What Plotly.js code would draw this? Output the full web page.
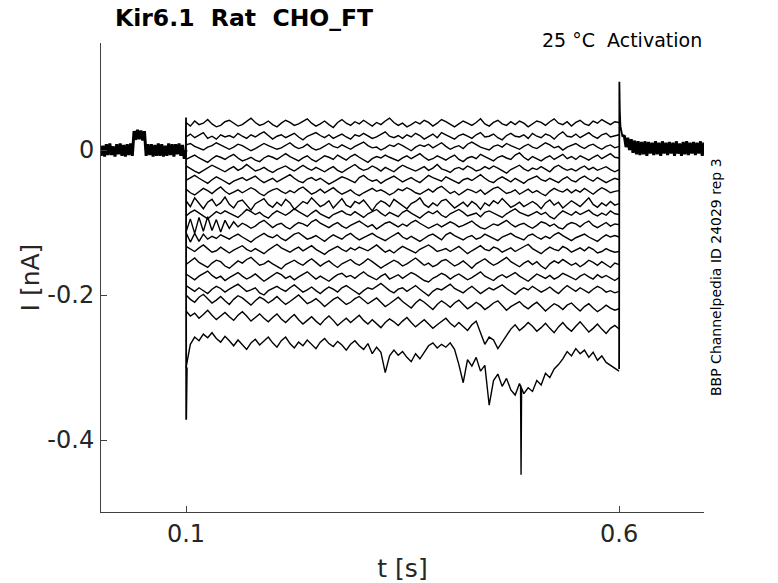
<!DOCTYPE html>
<html>
<head>
<meta charset="utf-8">
<script src="https://cdn.plot.ly/plotly-3.0.1.min.js"></script>
<style>
  html, body { margin: 0; padding: 0; background: #fff; }
  #myDiv { width: 778px; height: 583px; }
</style>
</head>
<body>
<div id="myDiv"></div>
<script>
// sweep currents in pA, sampled every 5 ms during the 0.1-0.6 s step
var sweepT = [
  0.100,0.105,0.110,0.115,0.120,0.125,0.130,0.135,0.140,0.145,
  0.150,0.155,0.160,0.165,0.170,0.175,0.180,0.185,0.190,0.195,
  0.200,0.205,0.210,0.215,0.220,0.225,0.230,0.235,0.240,0.245,
  0.250,0.255,0.260,0.265,0.270,0.275,0.280,0.285,0.290,0.295,
  0.300,0.305,0.310,0.315,0.320,0.325,0.330,0.335,0.340,0.345,
  0.350,0.355,0.360,0.365,0.370,0.375,0.380,0.385,0.390,0.395,
  0.400,0.405,0.410,0.415,0.420,0.425,0.430,0.435,0.440,0.445,
  0.450,0.455,0.460,0.465,0.470,0.475,0.480,0.485,0.490,0.495,
  0.500,0.505,0.510,0.515,0.520,0.525,0.530,0.535,0.540,0.545,
  0.550,0.555,0.560,0.565,0.570,0.575,0.580,0.585,0.590,0.595,
  0.600];

var sweep01 = [
  38,33,40,35,37,42,36,32,34,39, 41,37,33,35,39,44,38,34,36,40,
  35,32,37,41,38,34,36,39,43,37, 33,36,40,35,31,38,42,37,34,39,
  36,41,37,33,38,35,40,44,38,34, 37,32,35,39,36,41,38,33,37,42,
  39,35,32,36,40,37,34,38,43,36, 33,38,41,36,34,39,35,40,37,32,
  36,40,38,34,39,43,37,35,39,33, 38,41,36,34,40,37,42,38,35,39, 38];
var sweep02 = [
  18,22,17,20,24,16,19,15,21,18, 20,17,23,19,16,21,18,22,25,20,
  15,19,21,17,20,23,18,14,19,22, 24,20,17,21,16,19,22,18,15,21,
  19,23,20,16,18,21,25,19,17,20, 16,21,18,23,20,15,19,22,17,24,
  21,18,15,20,22,19,16,21,24,18, 19,22,17,14,20,23,19,18,21,16,
  23,19,17,22,20,15,21,25,19,18, 22,17,20,24,19,16,21,23,18,20, 21];
var sweep03 = [
  7,9,5,2,0,4,6,10,7,3, 1,4,8,6,3,-1,2,5,9,6,
  4,1,3,7,10,5,2,4,8,3, 0,2,6,9,5,3,7,4,1,5,
  8,11,6,3,4,0,3,7,5,9, 6,2,-1,4,7,5,8,3,6,10,
  5,1,4,6,2,8,11,7,4,2, 0,5,7,4,9,6,3,1,5,8,
  4,2,6,10,7,3,5,0,4,7, 9,5,2,6,8,4,1,5,7,3, 5];
var sweep04 = [
  -13,-10,-7,-11,-14,-17,-12,-8,-10,-13, -9,-6,-11,-15,-13,-10,-14,-16,-11,-8,
  -10,-13,-9,-5,-9,-12,-15,-11,-8,-13, -16,-12,-8,-10,-13,-7,-11,-14,-9,-6,
  -10,-14,-17,-12,-9,-11,-7,-10,-13,-15, -11,-8,-12,-9,-5,-10,-14,-12,-8,-11,
  -14,-10,-7,-13,-16,-11,-9,-12,-6,-9, -12,-15,-10,-8,-11,-13,-7,-4,-10,-14,
  -9,-12,-15,-11,-8,-13,-10,-6,-12,-9, -13,-8,-11,-14,-10,-7,-12,-9,-5,-10, -11];
var sweep05 = [
  -22,-26,-29,-32,-28,-25,-21,-24,-27,-30, -26,-23,-28,-25,-20,-24,-29,-27,-24,-28,
  -31,-27,-24,-22,-26,-29,-25,-21,-25,-28, -24,-27,-30,-26,-23,-28,-31,-27,-23,-20,
  -25,-28,-26,-22,-25,-29,-24,-27,-30,-25, -21,-24,-27,-29,-26,-23,-28,-25,-20,-26,
  -28,-31,-26,-24,-27,-22,-25,-29,-27,-23, -26,-22,-25,-28,-32,-27,-24,-21,-26,-29,
  -25,-27,-23,-26,-30,-24,-21,-25,-28,-26, -29,-25,-22,-27,-24,-28,-26,-23,-27,-30, -27];
var sweep06 = [
  -42,-38,-35,-39,-43,-46,-41,-37,-40,-44, -47,-43,-40,-38,-42,-39,-36,-41,-45,-42,
  -39,-44,-41,-37,-34,-39,-43,-45,-40,-38, -42,-39,-43,-47,-44,-40,-37,-39,-42,-45,
  -38,-35,-40,-43,-41,-46,-42,-39,-36,-40, -44,-41,-38,-42,-45,-40,-35,-38,-41,-43,
  -37,-40,-44,-46,-41,-39,-42,-38,-34,-39, -43,-45,-40,-37,-41,-44,-39,-42,-46,-41,
  -38,-36,-41,-43,-39,-42,-45,-40,-37,-42, -44,-39,-36,-40,-43,-38,-41,-45,-42,-39, -41];
var sweep07 = [
  -54,-59,-62,-57,-53,-56,-60,-55,-51,-57, -61,-58,-55,-59,-56,-52,-55,-60,-63,-58,
  -55,-53,-57,-60,-56,-59,-54,-51,-56,-61, -58,-54,-59,-56,-52,-57,-61,-58,-55,-60,
  -63,-59,-56,-53,-57,-55,-58,-62,-59,-54, -56,-52,-55,-59,-61,-57,-54,-58,-53,-50,
  -55,-60,-57,-62,-58,-54,-56,-59,-55,-61, -57,-53,-51,-56,-60,-58,-55,-61,-57,-54,
  -59,-56,-60,-63,-57,-53,-56,-58,-54,-59, -55,-58,-53,-57,-61,-56,-52,-55,-59,-57, -56];
var sweep08 = [
  -70,-78,-66,-74,-81,-72,-68,-77,-73,-65, -75,-80,-71,-69,-76,-83,-74,-70,-67,-75,
  -79,-72,-77,-68,-73,-82,-76,-71,-74,-66, -72,-78,-75,-70,-80,-73,-67,-76,-79,-71,
  -74,-69,-77,-84,-75,-70,-73,-78,-68,-72, -76,-81,-74,-71,-66,-75,-79,-73,-77,-70,
  -68,-74,-80,-76,-72,-78,-71,-75,-82,-73, -77,-70,-74,-67,-73,-79,-76,-72,-78,-74,
  -71,-75,-81,-73,-69,-76,-72,-80,-75,-70, -74,-78,-72,-66,-75,-79,-73,-77,-71,-76, -74];
var sweep09 = [
  -91,-86,-83,-87,-92,-95,-90,-85,-88,-84, -87,-90,-93,-88,-82,-85,-89,-86,-91,-94,
  -88,-84,-87,-90,-86,-81,-85,-89,-92,-87, -83,-88,-91,-94,-89,-86,-84,-88,-90,-85,
  -89,-93,-88,-85,-82,-87,-91,-86,-89,-92, -86,-83,-87,-90,-94,-89,-85,-88,-84,-90,
  -93,-88,-85,-82,-86,-91,-89,-87,-92,-86, -84,-87,-90,-93,-88,-85,-81,-86,-89,-91,
  -88,-85,-89,-86,-92,-95,-89,-84,-87,-90, -85,-89,-86,-83,-88,-91,-87,-90,-84,-88, -89];
var sweep10 = [
  -113,-95,-115,-93,-112,-92,-111,-96,-113,-97, -108,-99,-106,-101,-104,-108,-105,-100,-97,-102,
  -107,-103,-101,-106,-109,-104,-100,-102,-105,-99, -96,-101,-104,-107,-103,-100,-105,-108,-104,-101,
  -98,-102,-106,-103,-109,-105,-101,-99,-103,-106, -102,-105,-100,-97,-101,-104,-108,-105,-102,-106,
  -103,-99,-102,-106,-104,-101,-98,-103,-107,-109, -105,-102,-104,-100,-97,-102,-106,-103,-101,-105,
  -108,-104,-99,-101,-105,-102,-107,-109,-103,-100, -102,-106,-101,-98,-104,-107,-103,-100,-105,-102, -103];
var sweep11 = [
  -114,-127,-115,-126,-116,-123,-119,-122,-117,-120, -123,-119,-116,-120,-124,-127,-122,-118,-115,-119,
  -121,-117,-122,-125,-120,-116,-114,-119,-123,-121, -118,-122,-126,-121,-117,-120,-123,-118,-115,-120,
  -124,-121,-118,-115,-119,-122,-125,-121,-117,-114, -120,-123,-119,-122,-126,-122,-118,-116,-120,-124,
  -117,-114,-118,-121,-124,-120,-118,-123,-121,-116, -119,-122,-125,-120,-117,-115,-119,-122,-124,-118,
  -116,-120,-123,-119,-122,-117,-114,-118,-121,-125, -121,-118,-116,-120,-123,-126,-121,-117,-120,-118, -120];
var sweep12 = [
  -133,-137,-140,-135,-131,-136,-141,-139,-134,-138, -142,-138,-135,-132,-137,-140,-136,-139,-143,-138,
  -134,-130,-135,-138,-141,-137,-134,-139,-136,-132, -137,-141,-144,-139,-136,-133,-137,-140,-135,-138,
  -134,-137,-139,-135,-131,-136,-141,-138,-142,-137, -133,-136,-139,-142,-137,-134,-131,-135,-140,-138,
  -136,-140,-137,-133,-138,-143,-139,-135,-132,-137, -139,-134,-136,-141,-138,-135,-140,-137,-133,-130,
  -136,-140,-143,-138,-134,-137,-139,-133,-136,-141, -138,-135,-139,-134,-137,-142,-140,-136,-139,-141, -140];
var sweep13 = [
  -158,-153,-149,-155,-159,-162,-156,-152,-154,-160, -163,-158,-153,-156,-151,-148,-154,-159,-157,-153,
  -157,-161,-164,-158,-155,-152,-156,-159,-154,-150, -155,-160,-156,-153,-158,-162,-157,-154,-151,-156,
  -159,-155,-150,-154,-158,-163,-159,-156,-152,-155, -160,-157,-153,-149,-154,-159,-156,-161,-158,-153,
  -151,-156,-160,-157,-153,-158,-163,-157,-154,-150, -155,-159,-156,-152,-148,-154,-158,-161,-156,-153,
  -158,-154,-160,-164,-157,-153,-156,-151,-155,-159, -156,-161,-157,-152,-155,-159,-154,-158,-162,-156, -158];
var sweep14 = [
  -171,-175,-179,-174,-170,-167,-173,-177,-174,-180, -176,-172,-169,-174,-178,-175,-171,-176,-181,-177,
  -173,-169,-172,-177,-174,-179,-175,-171,-168,-173, -178,-174,-177,-181,-176,-172,-170,-175,-173,-177,
  -172,-168,-173,-176,-179,-174,-171,-178,-175,-172, -177,-173,-169,-172,-176,-180,-182,-177,-174,-170,
  -173,-178,-174,-171,-175,-179,-176,-172,-168,-174, -177,-180,-175,-172,-176,-173,-169,-174,-178,-181,
  -176,-171,-174,-177,-173,-178,-175,-170,-173,-176, -179,-174,-171,-175,-178,-172,-176,-173,-177,-180, -176];
var sweep15 = [
  -187,-191,-195,-190,-194,-198,-192,-188,-191,-196, -192,-189,-185,-190,-195,-193,-190,-197,-200,-194,
  -191,-188,-192,-195,-190,-186,-191,-196,-193,-189, -194,-198,-193,-189,-192,-196,-190,-187,-191,-195,
  -199,-194,-190,-192,-188,-184,-189,-194,-197,-192, -190,-195,-191,-187,-192,-196,-201,-195,-191,-193,
  -189,-185,-191,-194,-197,-192,-188,-193,-198,-194, -190,-193,-189,-186,-191,-195,-199,-194,-190,-193,
  -188,-192,-196,-193,-189,-194,-198,-192,-187,-191, -195,-190,-193,-197,-192,-188,-191,-196,-194,-197, -195];
var sweep16 = [
  -200,-206,-210,-203,-199,-205,-211,-207,-202,-208, -213,-206,-201,-204,-209,-214,-208,-203,-206,-211,
  -207,-202,-208,-213,-209,-204,-200,-206,-212,-209, -205,-210,-216,-211,-206,-203,-208,-213,-210,-205,
  -202,-207,-212,-208,-204,-210,-216,-212,-207,-203, -209,-214,-218,-211,-206,-210,-215,-220,-213,-208,
  -212,-217,-211,-207,-213,-219,-215,-210,-214,-220, -216,-211,-208,-214,-221,-216,-212,-209,-215,-219,
  -214,-210,-216,-222,-217,-212,-215,-220,-214,-211, -217,-222,-216,-212,-218,-223,-219,-214,-218,-221, -219];
var sweep17 = [
  -222,-229,-225,-232,-227,-221,-228,-234,-229,-224, -230,-235,-228,-223,-229,-236,-231,-226,-232,-237,
  -231,-226,-233,-238,-232,-227,-234,-240,-235,-230, -236,-241,-234,-229,-235,-242,-237,-232,-238,-233,
  -228,-235,-240,-234,-239,-245,-238,-233,-237,-242, -236,-231,-238,-244,-239,-234,-240,-246,-241,-236,
  -232,-239,-244,-238,-243,-249,-241,-236,-252,-268, -258,-262,-274,-265,-255,-247,-241,-249,-244,-238,
  -243,-250,-245,-239,-246,-252,-244,-238,-245,-250, -243,-237,-244,-251,-246,-240,-247,-253,-246,-242, -247];
var sweep18 = [
  -300,-268,-258,-263,-254,-259,-252,-260,-265,-257, -263,-270,-262,-268,-275,-266,-261,-269,-264,-258,
  -266,-272,-263,-258,-267,-273,-265,-270,-262,-268, -274,-265,-260,-267,-271,-264,-269,-276,-268,-263,
  -270,-275,-267,-281,-272,-279,-307,-284,-276,-283, -278,-286,-292,-281,-288,-279,-270,-266,-273,-268,
  -272,-266,-275,-296,-321,-289,-298,-286,-305,-297, -352,-318,-309,-326,-315,-331,-338,-322,-336,-328,
  -333,-318,-324,-308,-314,-302,-296,-288,-278,-284, -274,-281,-276,-286,-279,-290,-284,-293,-297,-302, -305];

// brief glitch in the last sweep near 0.487 s
var glitchT = [0.4862, 0.4868, 0.4874];
var glitchI = [-324, -448, -330];

// holding period before the step (all sweeps overlaid)
var preT = [
  0.000,0.002,0.004,0.006,0.008,0.010,0.012,0.014,0.016,0.018,
  0.020,0.022,0.024,0.026,0.028,0.030,0.032,0.034,0.036,0.038,
  0.040,0.042,0.044,0.046,0.048,0.050,0.052,0.054,0.056,0.058,
  0.060,0.062,0.064,0.066,0.068,0.070,0.072,0.074,0.076,0.078,
  0.080,0.082,0.084,0.086,0.088,0.090,0.092,0.094,0.096,0.098,
  0.100];
var preI = [
  7,-8,6,-9,8,-7,9,-7,5,-9,
  8,-6,9,-8,7,-9,8,-7,9,-8,
  26,14,28,15,27,13,26,-8,8,-7,
  8,-9,7,-8,9,-8,8,-9,6,-8,
  9,-7,8,-9,8,-6,9,-8,7,-12,
  0];

// capacitive transients at step onset and offset
var onsetT = [0.0998, 0.1000, 0.1002, 0.1006, 0.1010];
var onsetI = [0, 45, -372, -320, -300];
var offsetT = [0.6000, 0.6003, 0.6008, 0.6015, 0.6025, 0.6040];
var offsetI = [-302, 94, 55, 33, 24, 18];

// tail after the step
var postT = [
  0.604,0.606,0.608,0.610,0.612,0.614,0.616,0.618,0.620,0.622,0.624,
  0.626,0.628,0.630,0.632,0.634,0.636,0.638,0.640,0.642,0.644,
  0.646,0.648,0.650,0.652,0.654,0.656,0.658,0.660,0.662,0.664,
  0.666,0.668,0.670,0.672,0.674,0.676,0.678,0.680,0.682,0.684,
  0.686,0.688,0.690,0.692,0.694,0.696,0.698,0.700];
var postI = [
  18,
  20,4,17,0,15,-4,13,-6,12,-7,
  11,-6,12,-8,11,-5,10,-7,12,-6,
  10,-8,12,-5,10,-7,11,-5,10,-8,
  12,-5,9,-8,11,-6,12,-7,10,-5,
  11,-7,10,-5,12,-8,10,-5];

var xTickVals = [0.1, 0.6];
var xTickText = ['0.1', '0.6'];
var yTickVals = [0, -0.2, -0.4];
var yTickText = ['0', '-0.2', '-0.4'];

var sweeps = [sweep01, sweep02, sweep03, sweep04, sweep05, sweep06, sweep07, sweep08, sweep09,
              sweep10, sweep11, sweep12, sweep13, sweep14, sweep15, sweep16, sweep17, sweep18];

function toNA(arr) { return arr.map(function (v) { return v / 1000; }); }

var data = [];
function addLine(x, yPA, w) {
  data.push({ x: x, y: toNA(yPA), type: 'scatter', mode: 'lines',
              line: { color: '#000000', width: w }, hoverinfo: 'skip', showlegend: false });
}
addLine(preT, preI, 3);
sweeps.forEach(function (s) { addLine(sweepT, s, 1.4); });
addLine(glitchT, glitchI, 1.4);
addLine(onsetT, onsetI, 1.8);
addLine(offsetT, offsetI, 1.8);
addLine(postT, postI, 3);

var font = 'DejaVu Sans, sans-serif';
var layout = {
  width: 778,
  height: 583,
  paper_bgcolor: '#ffffff',
  plot_bgcolor: '#ffffff',
  margin: { l: 101, r: 74, t: 43, b: 71 },
  font: { family: font, color: '#262626' },
  title: {
    text: '<b>Kir6.1\u00a0 Rat\u00a0 CHO_FT</b>',
    font: { family: font, size: 23.5, color: '#000000' },
    xref: 'container', x: 115 / 778, xanchor: 'left',
    yref: 'container', y: 1 - 18 / 583, yanchor: 'middle'
  },
  xaxis: {
    range: [0.00185, 0.698],
    tickvals: xTickVals, ticktext: xTickText,
    ticks: 'inside', ticklen: 6, tickwidth: 1, tickcolor: '#404040',
    showline: true, linecolor: '#404040', linewidth: 1,
    showgrid: false, zeroline: false,
    tickfont: { size: 24, color: '#262626' },
    title: { text: 't [s]', font: { size: 25, color: '#262626' }, standoff: 12 }
  },
  yaxis: {
    range: [-0.4993, 0.1476],
    tickvals: yTickVals, ticktext: yTickText,
    ticks: 'inside', ticklen: 6, tickwidth: 1, tickcolor: '#404040',
    showline: true, linecolor: '#404040', linewidth: 1,
    showgrid: false, zeroline: false,
    tickfont: { size: 24, color: '#262626' },
    ticklabelstandoff: 1,
    title: { text: 'I [nA]', font: { size: 25, color: '#262626' }, standoff: 0 }
  },
  annotations: [
    {
      text: '25 \u00b0C\u00a0 Activation',
      xref: 'paper', yref: 'paper', x: 1, y: (512 - 40) / 469,
      xanchor: 'right', yanchor: 'middle', showarrow: false,
      font: { family: font, size: 19, color: '#000000' }
    },
    {
      text: 'BBP Channelpedia ID 24029 rep 3',
      xref: 'paper', yref: 'paper', x: (716 - 101) / 603, y: (512 - 277) / 469,
      xanchor: 'center', yanchor: 'middle', textangle: -90, showarrow: false,
      font: { family: font, size: 14, color: '#000000' }
    }
  ]
};

Plotly.newPlot('myDiv', data, layout, { staticPlot: true, displayModeBar: false });
</script>
</body>
</html>
